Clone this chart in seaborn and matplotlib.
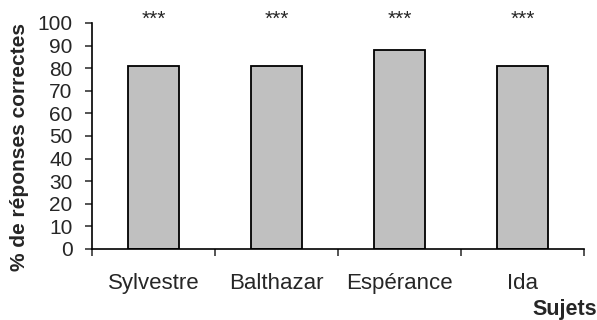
import matplotlib
matplotlib.use("Agg")
import matplotlib.pyplot as plt
import seaborn as sns
import pandas as pd

sujets = ["Sylvestre", "Balthazar", "Espérance", "Ida"]
pourcentages = [81, 81, 88, 81]
signif = ["***", "***", "***", "***"]

sns.set_style("ticks")
plt.rcParams["font.family"] = ["Liberation Sans", "DejaVu Sans"]

df = pd.DataFrame({"Sujets": sujets, "pct": pourcentages})

fig = plt.figure(figsize=(5.97, 3.2), dpi=100)
ax = fig.add_axes([92 / 597, 1 - 249 / 320, (584 - 92) / 597, (249 - 23) / 320])

sns.barplot(data=df, x="Sujets", y="pct", ax=ax, color="#C0C0C0",
            edgecolor="black", linewidth=1.3, width=0.41, saturation=1)

ax.set_ylim(0, 100)
ax.set_xlim(-0.5, len(sujets) - 0.5)
ax.set_yticks(range(0, 101, 10))
ax.tick_params(axis="y", labelsize=15, length=5, width=1.1, pad=9, direction="out")
ax.tick_params(axis="x", which="major", labelsize=16, length=0, pad=17)
ax.set_xticks([i - 0.5 for i in range(len(sujets) + 1)], minor=True)
ax.tick_params(axis="x", which="minor", length=5, width=1.1, direction="out")

for s in ["left", "bottom"]:
    ax.spines[s].set_linewidth(1.2)
    ax.spines[s].set_color("black")
sns.despine(ax=ax)

for i, txt in enumerate(signif):
    ax.text(i, 99.3, txt, ha="center", va="baseline", fontsize=15, clip_on=False)

ax.set_xlabel("")
ax.set_ylabel("")
fig.text(20 / 597, 1 - 147 / 320, "% de réponses correctes", rotation=90,
         ha="center", va="center", fontsize=15, fontweight="bold")
fig.text(597 / 597, 1 - 310 / 320, "Sujets", ha="right", va="center",
         fontsize=15.5, fontweight="bold")

fig.savefig("out.png", dpi=100)
